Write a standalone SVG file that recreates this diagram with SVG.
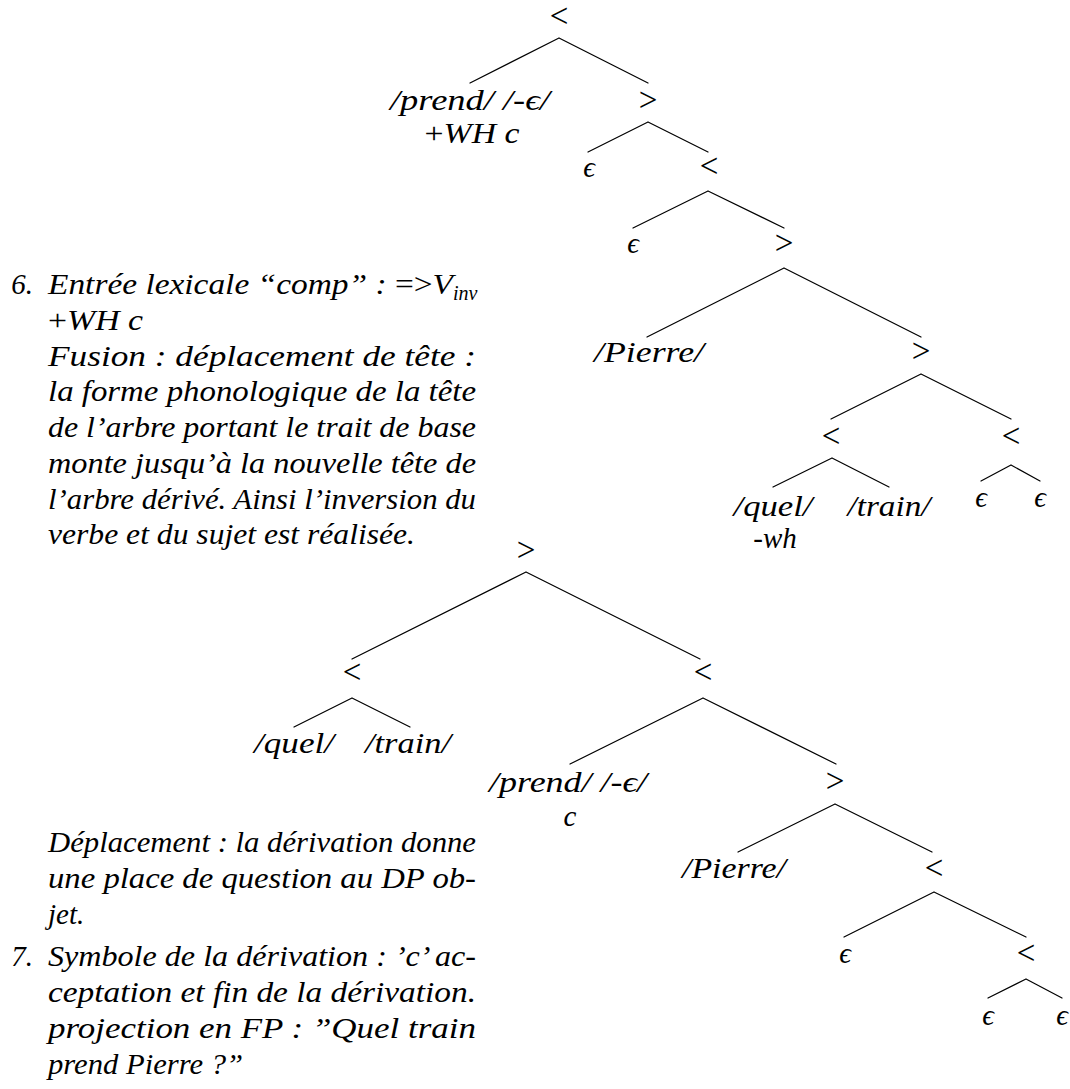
<svg xmlns="http://www.w3.org/2000/svg" width="1070" height="1089" viewBox="0 0 1070 1089">
<style>
text { font-family: "Liberation Serif", "DejaVu Serif", serif; font-size: 29px; fill: #000; }
.it { font-style: italic; }
.n { text-anchor: middle; }
.up { font-style: normal; }
.sym { font-size: 33px; font-style: normal; text-anchor: middle; }
.sub { font-size: 20px; font-style: italic; }
.edge { stroke: #000; stroke-width: 1.2; fill: none; stroke-linecap: round; }
</style>
<rect width="1070" height="1089" fill="#fff"/>

<g id="connectors">
  <path class="edge" d="M559,38 L470,83 M559,38 L648,83"/>
  <path class="edge" d="M648,122 L588,152 M648,122 L708,152"/>
  <path class="edge" d="M708,191 L633,228 M708,191 L784,228"/>
  <path class="edge" d="M784,268 L647,337 M784,268 L921,337"/>
  <path class="edge" d="M921,374 L831,419 M921,374 L1011,419"/>
  <path class="edge" d="M832,458 L773,487 M832,458 L889,487"/>
  <path class="edge" d="M1011,465 L981,481 M1011,465 L1040,481"/>
  <path class="edge" d="M526,572 L352,659 M526,572 L700,659"/>
  <path class="edge" d="M352,698 L294,727 M352,698 L410,727"/>
  <path class="edge" d="M703,698 L570,764 M703,698 L836,764"/>
  <path class="edge" d="M835,804 L738,852 M835,804 L932,852"/>
  <path class="edge" d="M934,892 L844,937 M934,892 L1026,937"/>
  <path class="edge" d="M1026,979 L988,998 M1026,979 L1062,998"/>
</g>

<!-- top tree -->
<g id="t1-root"><text class="sym" x="559" y="27">&lt;</text></g>
<g id="t1-prend"><text class="it n" x="470" y="110" textLength="160" lengthAdjust="spacingAndGlyphs">/prend/ /-ϵ/</text>
  <text class="it n" x="472" y="143" textLength="95" lengthAdjust="spacingAndGlyphs"><tspan class="up">+</tspan>WH c</text></g>
<g id="t1-gt1"><text class="sym" x="648" y="111">&gt;</text></g>
<g id="t1-eps1"><text class="it n" x="589" y="177">ϵ</text></g>
<g id="t1-lt2"><text class="sym" x="709" y="177">&lt;</text></g>
<g id="t1-eps2"><text class="it n" x="633" y="253">ϵ</text></g>
<g id="t1-gt2"><text class="sym" x="784" y="254">&gt;</text></g>
<g id="t1-pierre"><text class="it n" x="649" y="362" textLength="110" lengthAdjust="spacingAndGlyphs">/Pierre/</text></g>
<g id="t1-gt3"><text class="sym" x="921" y="362">&gt;</text></g>
<g id="t1-lt3"><text class="sym" x="831" y="447">&lt;</text></g>
<g id="t1-lt4"><text class="sym" x="1011" y="447">&lt;</text></g>
<g id="t1-quel"><text class="it n" x="773" y="516" textLength="79" lengthAdjust="spacingAndGlyphs">/quel/</text>
  <text class="it n" x="775" y="548">-wh</text></g>
<g id="t1-train"><text class="it n" x="889" y="516" textLength="83" lengthAdjust="spacingAndGlyphs">/train/</text></g>
<g id="t1-eps3"><text class="it n" x="981" y="507">ϵ</text></g>
<g id="t1-eps4"><text class="it n" x="1040" y="507">ϵ</text></g>

<!-- bottom tree -->
<g id="t2-root"><text class="sym" x="526" y="561">&gt;</text></g>
<g id="t2-lt1"><text class="sym" x="352" y="683">&lt;</text></g>
<g id="t2-lt2"><text class="sym" x="703" y="683">&lt;</text></g>
<g id="t2-quel"><text class="it n" x="294" y="753" textLength="80" lengthAdjust="spacingAndGlyphs">/quel/</text></g>
<g id="t2-train"><text class="it n" x="408" y="753" textLength="86" lengthAdjust="spacingAndGlyphs">/train/</text></g>
<g id="t2-prend"><text class="it n" x="568" y="792" textLength="158" lengthAdjust="spacingAndGlyphs">/prend/ /-ϵ/</text>
  <text class="it n" x="570" y="826">c</text></g>
<g id="t2-gt1"><text class="sym" x="835" y="792">&gt;</text></g>
<g id="t2-pierre"><text class="it n" x="734" y="878" textLength="104" lengthAdjust="spacingAndGlyphs">/Pierre/</text></g>
<g id="t2-lt3"><text class="sym" x="934" y="879">&lt;</text></g>
<g id="t2-eps1"><text class="it n" x="845" y="963">ϵ</text></g>
<g id="t2-lt4"><text class="sym" x="1026" y="964">&lt;</text></g>
<g id="t2-eps2"><text class="it n" x="988" y="1025">ϵ</text></g>
<g id="t2-eps3"><text class="it n" x="1062" y="1025">ϵ</text></g>

<!-- text item 6 -->
<g id="item6">
  <text class="it" x="33" y="294" text-anchor="end">6.</text>
  <text class="it" x="48" y="294" textLength="405" lengthAdjust="spacingAndGlyphs">Entrée lexicale “comp” : <tspan class="up">=&gt;</tspan>V</text>
  <text class="sub" x="453" y="300">inv</text>
  <text class="it" x="48" y="330" textLength="95" lengthAdjust="spacingAndGlyphs"><tspan class="up">+</tspan>WH c</text>
  <text class="it" x="48" y="366" textLength="428" lengthAdjust="spacingAndGlyphs">Fusion : déplacement de tête :</text>
  <text class="it" x="48" y="401" textLength="428" lengthAdjust="spacingAndGlyphs">la forme phonologique de la tête</text>
  <text class="it" x="48" y="437" textLength="428" lengthAdjust="spacingAndGlyphs">de l’arbre portant le trait de base</text>
  <text class="it" x="48" y="473" textLength="428" lengthAdjust="spacingAndGlyphs">monte jusqu’à la nouvelle tête de</text>
  <text class="it" x="48" y="509" textLength="428" lengthAdjust="spacingAndGlyphs">l’arbre dérivé. Ainsi l’inversion du</text>
  <text class="it" x="48" y="544" textLength="367" lengthAdjust="spacingAndGlyphs">verbe et du sujet est réalisée.</text>
</g>

<!-- text item 7 -->
<g id="item7">
  <text class="it" x="48" y="852" textLength="428" lengthAdjust="spacingAndGlyphs">Déplacement : la dérivation donne</text>
  <text class="it" x="48" y="888" textLength="428" lengthAdjust="spacingAndGlyphs">une place de question au DP ob-</text>
  <text class="it" x="48" y="924">jet.</text>
  <text class="it" x="33" y="966" text-anchor="end">7.</text>
  <text class="it" x="48" y="966" textLength="428" lengthAdjust="spacingAndGlyphs">Symbole de la dérivation : ’c’ ac-</text>
  <text class="it" x="48" y="1002" textLength="428" lengthAdjust="spacingAndGlyphs">ceptation et fin de la dérivation.</text>
  <text class="it" x="48" y="1038" textLength="428" lengthAdjust="spacingAndGlyphs">projection en FP : ”Quel train</text>
  <text class="it" x="48" y="1074" textLength="195" lengthAdjust="spacingAndGlyphs">prend Pierre ?”</text>
</g>
</svg>
